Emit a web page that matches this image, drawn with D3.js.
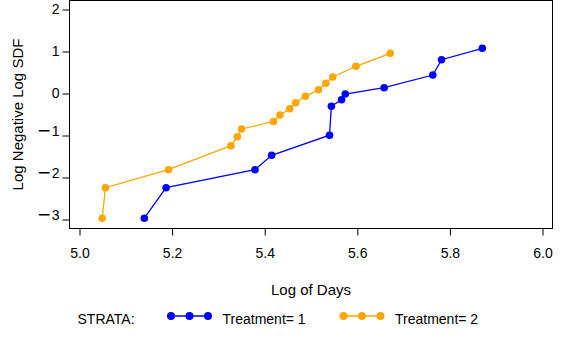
<!DOCTYPE html>
<html>
<head>
<meta charset="utf-8">
<script src="https://cdn.jsdelivr.net/npm/d3@7"></script>
<style>
  body { margin: 0; background: #fff; }
  svg { display: block; font-family: "Liberation Sans", Arial, sans-serif; }
</style>
</head>
<body>
<div id="chart"></div>
<script>
// strata
const strata = ["Treatment= 1", "Treatment= 2"];
const colors = ["#0000ff", "#ffa500"];

// log of days / log negative log SDF
const logDays1 = [5.140, 5.187, 5.379, 5.415, 5.540, 5.544, 5.566, 5.574, 5.658, 5.763, 5.782, 5.870];
const lls1 = [-2.97, -2.243, -1.814, -1.471, -0.993, -0.302, -0.148, -0.012, 0.138, 0.440, 0.805, 1.076];

const logDays2 = [5.049, 5.056, 5.192, 5.327, 5.341, 5.350, 5.419, 5.433, 5.454, 5.467, 5.488, 5.516, 5.532, 5.547, 5.597, 5.671];
const lls2 = [-2.97, -2.243, -1.814, -1.243, -1.029, -0.845, -0.667, -0.512, -0.364, -0.219, -0.067, 0.090, 0.243, 0.393, 0.648, 0.957];

// tick labels
const xTicks = [5.0, 5.2, 5.4, 5.6, 5.8, 6.0];
const yTicks = [-3, -2, -1, 0, 1, 2];

//chart size
const width = 562;
const height = 350;
const frame = { left: 69.5, right: 552.5, top: 0.5, bottom: 228.5 };

const svg = d3.select("#chart")
  .append("svg")
  .attr("width", width)
  .attr("height", height);

const x = d3.scaleLinear().domain([5, 6]).range([79.5, 542.5]);
const y = d3.scaleLinear().domain([-3, 2]).range([219.5, 9.5]);

// frame
svg.append("rect")
  .attr("x", frame.left)
  .attr("y", frame.top)
  .attr("width", frame.right - frame.left)
  .attr("height", frame.bottom - frame.top)
  .attr("fill", "none")
  .attr("stroke", "#000")
  .attr("stroke-width", 1);

// x-axis
const xAxis = svg.append("g")
  .attr("transform", `translate(0,${frame.bottom})`)
  .call(d3.axisBottom(x).tickValues(xTicks).tickFormat(d3.format(".1f")).tickSize(7).tickPadding(13));
xAxis.select(".domain").remove();
xAxis.selectAll("text").attr("font-size", 14).attr("font-family", null).attr("fill", "#000");
xAxis.selectAll("line").attr("stroke", "#000");

// y-axis
const yAxis = svg.append("g")
  .attr("transform", `translate(${frame.left},0)`)
  .call(d3.axisLeft(y).tickValues(yTicks).tickSize(7).tickPadding(3));
yAxis.select(".domain").remove();
yAxis.selectAll("line").attr("stroke", "#000");
yAxis.selectAll("text")
  .attr("font-size", 14)
  .attr("font-family", null)
  .attr("fill", "#000")
  .each(function(d) {
    const t = d3.select(this);
    t.text(null);
    if (d < 0) {
      // long minus like the original
      t.append("tspan").attr("font-size", 22).attr("dy", 2).text("\u2212");
      t.append("tspan").attr("dx", 1).attr("dy", -2).text(Math.abs(d));
    } else {
      t.append("tspan").text(d);
    }
  });

// axis titles
svg.append("text")
  .attr("x", (frame.left + frame.right) / 2)
  .attr("y", 295)
  .attr("text-anchor", "middle")
  .attr("font-size", 15)
  .text("Log of Days");

svg.append("text")
  .attr("transform", `translate(22.5,${(frame.top + frame.bottom) / 2}) rotate(-90)`)
  .attr("text-anchor", "middle")
  .attr("font-size", 15)
  .text("Log Negative Log SDF");

// series
const series = [
  logDays1.map((d, i) => ({ x: d, y: lls1[i] })),
  logDays2.map((d, i) => ({ x: d, y: lls2[i] }))
];

const line = d3.line().x(d => x(d.x)).y(d => y(d.y));

series.forEach((s, k) => {
  svg.append("path")
    .datum(s)
    .attr("d", line)
    .attr("fill", "none")
    .attr("stroke", colors[k])
    .attr("stroke-width", 1.3);

  svg.selectAll(".dot" + k)
    .data(s)
    .enter().append("circle")
    .attr("class", "dot" + k)
    .attr("cx", d => x(d.x))
    .attr("cy", d => y(d.y))
    .attr("r", 3.8)
    .attr("fill", colors[k]);
});

// legend
const legend = svg.append("g").attr("font-size", 14);
legend.append("text").attr("x", 77.5).attr("y", 323.5).text("STRATA:");

const legendX = [171, 343.5];
strata.forEach((name, k) => {
  const g = legend.append("g").attr("transform", `translate(${legendX[k]},316)`);
  g.append("line").attr("x1", 0).attr("x2", 37).attr("stroke", colors[k]).attr("stroke-width", 1.5);
  [0, 18.5, 37].forEach(cx => {
    g.append("circle").attr("cx", cx).attr("r", 4).attr("fill", colors[k]);
  });
  g.append("text").attr("x", 51.5).attr("y", 7.5).text(name);
});
</script>
</body>
</html>
